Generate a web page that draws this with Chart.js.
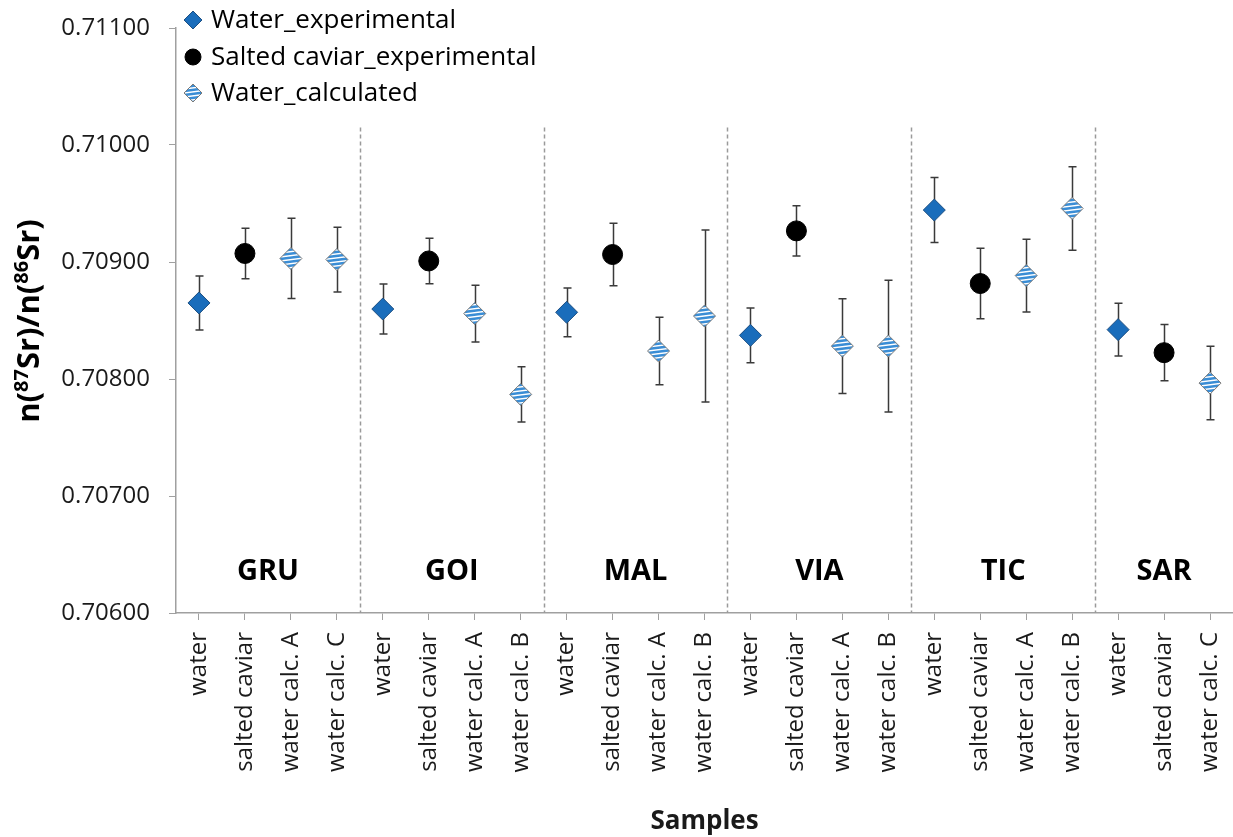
<!DOCTYPE html>
<html>
<head>
<meta charset="utf-8">
<script src="https://cdn.jsdelivr.net/npm/chart.js@4/dist/chart.umd.min.js"></script>
<style>
  html, body { margin: 0; padding: 0; background: #ffffff; overflow: hidden; }
  #wrap { width: 1233px; height: 837px; }
</style>
</head>
<body>
<div id="wrap"><canvas id="chart" width="1233" height="837"></canvas></div>
<script>
// Sample names along the x axis
const categories = [
  'water', 'salted caviar', 'water calc. A', 'water calc. C',
  'water', 'salted caviar', 'water calc. A', 'water calc. B',
  'water', 'salted caviar', 'water calc. A', 'water calc. B',
  'water', 'salted caviar', 'water calc. A', 'water calc. B',
  'water', 'salted caviar', 'water calc. A', 'water calc. B',
  'water', 'salted caviar', 'water calc. C'
];

// Sampling sites and how many samples each one has
const groupNames = ['GRU', 'GOI', 'MAL', 'VIA', 'TIC', 'SAR'];
const groupSizes = [4, 4, 4, 4, 4, 3];

// n(87Sr)/n(86Sr) ratios and their uncertainties
const waterExp = [
  0.708650, null, null, null,
  0.708598, null, null, null,
  0.708570, null, null, null,
  0.708373, null, null, null,
  0.709444, null, null, null,
  0.708422, null, null
];
const waterExpErr = [
  0.000231, null, null, null,
  0.000214, null, null, null,
  0.000208, null, null, null,
  0.000234, null, null, null,
  0.000278, null, null, null,
  0.000225, null, null
];
const caviarExp = [
  null, 0.709073, null, null,
  null, 0.709009, null, null,
  null, 0.709064, null, null,
  null, 0.709266, null, null,
  null, 0.708816, null, null,
  null, 0.708225, null
];
const caviarExpErr = [
  null, 0.000216, null, null,
  null, 0.000194, null, null,
  null, 0.000268, null, null,
  null, 0.000214, null, null,
  null, 0.000302, null, null,
  null, 0.000240, null
];
const waterCalc = [
  null, null, 0.709030, 0.709021,
  null, null, 0.708559, 0.707868,
  null, null, 0.708239, 0.708538,
  null, null, 0.708281, 0.708281,
  null, null, 0.708884, 0.709458,
  null, null, 0.707965
];
const waterCalcErr = [
  null, null, 0.000343, 0.000277,
  null, null, 0.000243, 0.000236,
  null, null, 0.000289, 0.000735,
  null, null, 0.000405, 0.000564,
  null, null, 0.000311, 0.000357,
  null, null, 0.000314
];

// y axis
const yTicks = [0.706, 0.707, 0.708, 0.709, 0.710, 0.711];
const yMin = 0.706, yMax = 0.711;
const dividerTop = 0.71015;
const groupLabelLevel = 0.70635;

const FONT = "'Open Sans', 'Noto Sans', sans-serif";

// light-blue / white stripes for the calculated values
const stripeFill = (() => {
  const c = document.createElement('canvas');
  c.width = 32; c.height = 4;
  const g = c.getContext('2d');
  g.fillStyle = '#3a8dd5';
  g.fillRect(0, 0, 32, 4);
  g.strokeStyle = '#ffffff';
  g.lineWidth = 1.4;
  for (const off of [-4, 0, 4, 8]) {
    g.beginPath();
    g.moveTo(0, off + 4);
    g.lineTo(32, off);
    g.stroke();
  }
  return g.createPattern(c, 'repeat');
})();

const series = [
  { label: 'Water_experimental', values: waterExp, errors: waterExpErr,
    style: { pointStyle: 'rectRot', radius: 11, backgroundColor: '#1a6dbb', borderColor: '#1d4f82', borderWidth: 1 } },
  { label: 'Salted caviar_experimental', values: caviarExp, errors: caviarExpErr,
    style: { pointStyle: 'circle', radius: 10, backgroundColor: '#000000', borderColor: '#000000', borderWidth: 1 } },
  { label: 'Water_calculated', values: waterCalc, errors: waterCalcErr,
    style: { pointStyle: 'rectRot', radius: 11, backgroundColor: stripeFill, borderColor: '#7a7a7a', borderWidth: 1 } }
];

// error bars, site separators and site names
const decorations = {
  id: 'decorations',
  beforeDatasetsDraw(chart) {
    const { ctx, scales: { x, y } } = chart;
    ctx.save();

    // dashed separators between sites
    ctx.strokeStyle = '#9a9a9a';
    ctx.lineWidth = 1.5;
    ctx.setLineDash([4, 3]);
    let idx = 0;
    groupSizes.forEach((n, gi) => {
      idx += n;
      if (gi < groupSizes.length - 1) {
        const px = Math.round((x.getPixelForValue(idx - 1) + x.getPixelForValue(idx)) / 2) + 0.5;
        ctx.beginPath();
        ctx.moveTo(px, y.getPixelForValue(dividerTop));
        ctx.lineTo(px, y.getPixelForValue(yMin));
        ctx.stroke();
      }
    });
    ctx.setLineDash([]);

    // site names
    ctx.fillStyle = '#000000';
    ctx.font = `bold 29px ${FONT}`;
    ctx.textAlign = 'center';
    ctx.textBaseline = 'middle';
    idx = 0;
    groupSizes.forEach((n, gi) => {
      const cx = (x.getPixelForValue(idx) + x.getPixelForValue(idx + n - 1)) / 2;
      ctx.fillText(groupNames[gi], cx, y.getPixelForValue(groupLabelLevel));
      idx += n;
    });

    // error bars
    ctx.strokeStyle = '#3a3a3a';
    ctx.lineWidth = 1.5;
    series.forEach(s => {
      s.values.forEach((v, i) => {
        if (v == null) return;
        const e = s.errors[i];
        const px = Math.round(x.getPixelForValue(i)) + 0.5;
        const yHi = y.getPixelForValue(v + e);
        const yLo = y.getPixelForValue(v - e);
        ctx.beginPath();
        ctx.moveTo(px, yHi); ctx.lineTo(px, yLo);
        ctx.moveTo(px - 4, yHi); ctx.lineTo(px + 4, yHi);
        ctx.moveTo(px - 4, yLo); ctx.lineTo(px + 4, yLo);
        ctx.stroke();
      });
    });
    ctx.restore();
  }
};

// legend in the upper left corner and the y axis title with superscripts
const overlay = {
  id: 'overlay',
  afterDraw(chart) {
    const { ctx } = chart;
    ctx.save();
    const rows = [20, 57, 93];
    series.forEach((s, i) => {
      const st = s.style;
      ctx.fillStyle = st.backgroundColor;
      ctx.strokeStyle = st.borderColor;
      ctx.lineWidth = st.borderWidth;
      Chart.helpers.drawPoint(ctx, { pointStyle: st.pointStyle, rotation: 0, radius: st.radius - 2, borderWidth: st.borderWidth }, 193, rows[i]);
      ctx.fillStyle = '#000000';
      ctx.font = `26px ${FONT}`;
      ctx.textAlign = 'left';
      ctx.textBaseline = 'middle';
      ctx.fillText(s.label, 211, rows[i] + 1);
    });

    // n(87Sr)/n(86Sr)
    const parts = [
      { t: 'n(', sup: false }, { t: '87', sup: true }, { t: 'Sr)/n(', sup: false },
      { t: '86', sup: true }, { t: 'Sr)', sup: false }
    ];
    const mainFont = `bold 31px ${FONT}`;
    const supFont = `bold 20px ${FONT}`;
    let total = 0;
    parts.forEach(p => { ctx.font = p.sup ? supFont : mainFont; p.w = ctx.measureText(p.t).width; total += p.w; });
    ctx.translate(39, 321);
    ctx.rotate(-Math.PI / 2);
    ctx.textAlign = 'left';
    ctx.textBaseline = 'alphabetic';
    ctx.fillStyle = '#000000';
    let cx = -total / 2;
    parts.forEach(p => {
      ctx.font = p.sup ? supFont : mainFont;
      ctx.fillText(p.t, cx, p.sup ? -11 : 0);
      cx += p.w;
    });
    ctx.restore();
  }
};

new Chart(document.getElementById('chart'), {
  type: 'line',
  data: {
    labels: categories,
    datasets: series.map(s => ({
      label: s.label,
      data: s.values,
      showLine: false,
      pointStyle: s.style.pointStyle,
      pointRadius: s.style.radius,
      pointBackgroundColor: s.style.backgroundColor,
      pointBorderColor: s.style.borderColor,
      pointBorderWidth: s.style.borderWidth,
      backgroundColor: s.style.backgroundColor,
      borderColor: s.style.borderColor,
      clip: false
    }))
  },
  options: {
    responsive: false,
    animation: false,
    events: [],
    layout: { autoPadding: false, padding: { top: 28, right: -6, bottom: 0, left: 0 } },
    plugins: { legend: { display: false }, tooltip: { enabled: false } },
    scales: {
      x: {
        type: 'category',
        offset: true,
        grid: { drawOnChartArea: false, drawTicks: true, tickLength: 7, color: '#a0a0a0', offset: false },
        border: { color: '#a0a0a0', width: 1.5 },
        ticks: {
          autoSkip: false, maxRotation: 90, minRotation: 90, padding: 12,
          color: '#1a1a1a', font: { family: FONT, size: 24 }
        },
        title: {
          display: true, text: 'Samples', color: '#1a1a1a',
          font: { family: FONT, size: 26, weight: 'bold' }, padding: { top: 0, bottom: 0 }
        },
        afterFit(scale) {
          scale.height = 224;
          scale.paddingLeft = 0;
          scale.paddingRight = -6;
        }
      },
      y: {
        min: yMin, max: yMax,
        grid: { drawOnChartArea: false, drawTicks: true, tickLength: 7, color: '#a0a0a0' },
        border: { color: '#a0a0a0', width: 1.5 },
        ticks: {
          padding: 19, color: '#1a1a1a', font: { family: FONT, size: 24 },
          callback: v => Number(v).toFixed(5)
        },
        afterBuildTicks(scale) { scale.ticks = yTicks.map(v => ({ value: v })); },
        afterFit(scale) {
          scale.width = 176;
          scale.paddingTop = 0;
          scale.paddingBottom = 0;
          scale.paddingRight = -6;
        }
      }
    }
  },
  plugins: [decorations, overlay]
});
</script>
</body>
</html>
